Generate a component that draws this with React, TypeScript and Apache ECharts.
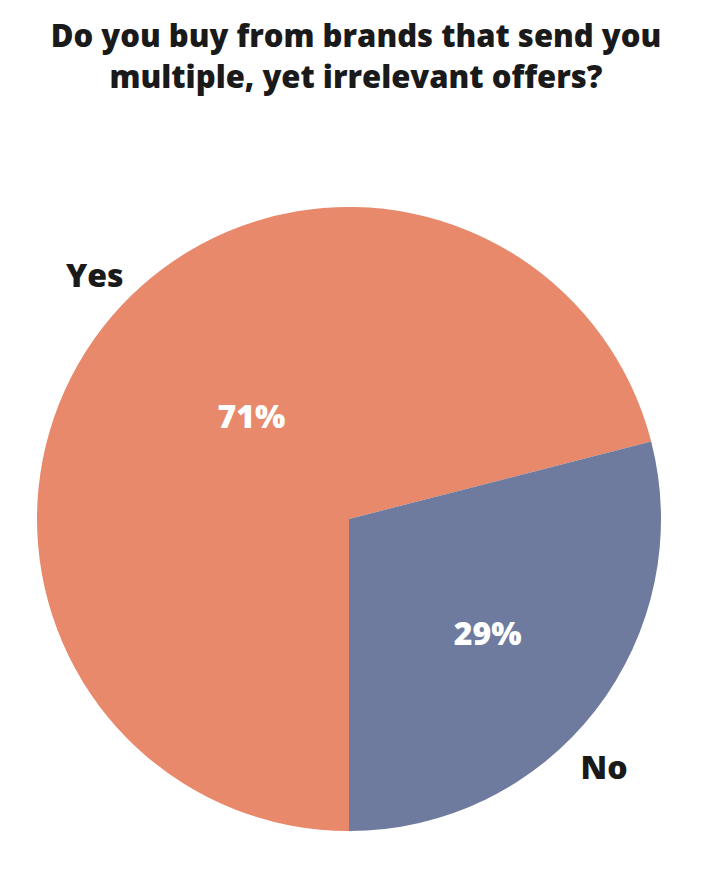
import React, { useEffect, useRef } from "react";
import * as echarts from "echarts";

const titleLines = ["Do you buy from brands that send you", "multiple, yet irrelevant offers?"];
const categories = ["Yes", "No"];
const values = [71, 29];
const colors = ["#E7896A", "#6E7B9E"];

const FONT = "Open Sans";

export default function App() {
  const ref = useRef<HTMLDivElement>(null);
  useEffect(() => {
    document.body.style.margin = "0";
    if (!ref.current) return;
    const chart = echarts.init(ref.current, null, { renderer: "svg" });
    const data = categories.map((name, i) => ({ name, value: values[i], itemStyle: { color: colors[i] } }));
    const innerShift = [[28, -6], [13, 16]];
    const outerShift = [[26, -53], [-20, 56]];
    chart.setOption({
      animation: false,
      backgroundColor: "#ffffff",
      title: {
        text: titleLines.join("\n"),
        left: "center",
        top: 9,
        textStyle: { fontFamily: FONT, fontWeight: 800, fontSize: 31, color: "#1a1a1a", lineHeight: 41 },
      },
      series: [
        {
          type: "pie",
          center: [349, 519],
          radius: 312,
          startAngle: 270,
          clockwise: true,
          silent: true,
          data,
          label: {
            show: true,
            position: "inside",
            formatter: "{c}%",
            color: "#ffffff",
            fontFamily: FONT,
            fontWeight: 800,
            fontSize: 32,
          },
          labelLine: { show: false },
          labelLayout: (p: any) => ({ dx: innerShift[p.dataIndex][0], dy: innerShift[p.dataIndex][1] }),
        },
        {
          type: "pie",
          center: [349, 519],
          radius: 312,
          startAngle: 270,
          clockwise: true,
          silent: true,
          data: categories.map((name, i) => ({ name, value: values[i], itemStyle: { color: "rgba(0,0,0,0)" } })),
          label: {
            show: true,
            position: "outside",
            formatter: "{b}",
            color: "#1a1a1a",
            fontFamily: FONT,
            fontWeight: 800,
            fontSize: 32,
          },
          labelLine: { show: false, length: 0, length2: 0 },
          labelLayout: (p: any) => ({ dx: outerShift[p.dataIndex][0], dy: outerShift[p.dataIndex][1] }),
        },
      ],
    });
    return () => chart.dispose();
  }, []);
  return <div ref={ref} style={{ width: 712, height: 874 }} />;
}
